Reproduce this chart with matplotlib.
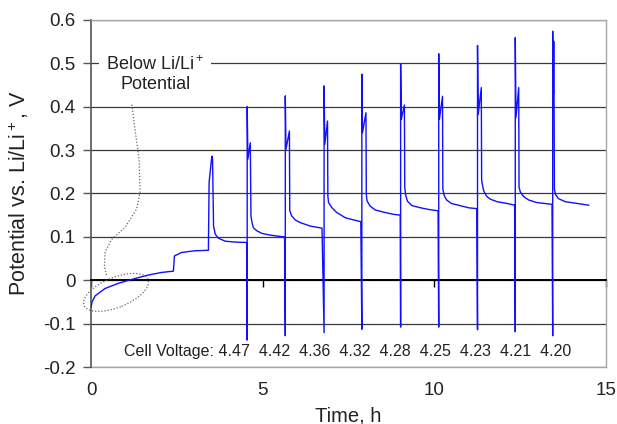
import matplotlib
matplotlib.use("Agg")
import matplotlib.pyplot as plt
from matplotlib.patches import Ellipse
from matplotlib.transforms import ScaledTranslation

plt.rcParams['font.family'] = ['Liberation Sans', 'DejaVu Sans']
plt.rcParams['mathtext.fontset'] = 'custom'
plt.rcParams['mathtext.rm'] = 'Liberation Sans'
plt.rcParams['mathtext.it'] = 'Liberation Sans'
plt.rcParams['axes.unicode_minus'] = False

# --- data ---
# slow first charge, still below 0 V vs Li/Li+
time_h = [0.00, 0.03, 0.12, 0.41, 0.80, 1.19, 1.67, 2.06, 2.40, 2.43, 2.64, 3.03, 3.42,
          # pulse 0
          3.44, 3.47, 3.52, 3.54, 3.57, 3.62, 3.71, 3.91, 4.20, 4.54,
          # pulse 1
          4.55, 4.55, 4.57, 4.64, 4.66, 4.69, 4.73, 4.83, 4.98, 5.22, 5.51, 5.64,
          # pulse 2
          5.66, 5.66, 5.68, 5.78, 5.79, 5.85, 5.95, 6.09, 6.38, 6.73,
          # pulse 3
          6.79, 6.79, 6.81, 6.89, 6.90, 6.92, 7.02, 7.16, 7.41, 7.65, 7.86,
          # pulse 4
          7.89, 7.89, 7.91, 8.01, 8.02, 8.04, 8.13, 8.28, 8.57, 8.81, 9.01,
          # pulse 5
          9.02, 9.02, 9.04, 9.13, 9.14, 9.17, 9.22, 9.35, 9.60, 9.85, 10.11,
          # pulse 6
          10.13, 10.13, 10.15, 10.24, 10.25, 10.29, 10.36, 10.50, 10.80, 11.00, 11.24,
          # pulse 7
          11.26, 11.26, 11.28, 11.37, 11.38, 11.39, 11.44, 11.52, 11.63, 11.83, 12.12, 12.34,
          # pulse 8
          12.36, 12.36, 12.38, 12.46, 12.47, 12.51, 12.60, 12.75, 12.99, 13.43,
          # pulse 9
          13.45, 13.45, 13.47, 13.48, 13.49, 13.50, 13.53, 13.62, 13.82, 14.16, 14.50]

potential_v = [-0.063, -0.050, -0.036, -0.019, -0.007, 0.002, 0.012, 0.018, 0.021, 0.056, 0.064, 0.068, 0.069,
               0.225, 0.248, 0.286, 0.280, 0.125, 0.106, 0.097, 0.090, 0.088, 0.087,
               -0.138, 0.400, 0.279, 0.317, 0.148, 0.133, 0.121, 0.114, 0.108, 0.104, 0.101, 0.100,
               -0.128, 0.425, 0.302, 0.344, 0.160, 0.148, 0.139, 0.133, 0.125, 0.120,
               -0.121, 0.448, 0.313, 0.367, 0.194, 0.179, 0.167, 0.156, 0.144, 0.139, 0.135,
               -0.113, 0.475, 0.340, 0.386, 0.198, 0.183, 0.171, 0.162, 0.156, 0.152, 0.150,
               -0.108, 0.499, 0.371, 0.404, 0.214, 0.195, 0.182, 0.172, 0.167, 0.163, 0.160,
               -0.108, 0.522, 0.371, 0.424, 0.210, 0.195, 0.185, 0.177, 0.171, 0.167, 0.165,
               -0.114, 0.541, 0.382, 0.444, 0.233, 0.225, 0.206, 0.194, 0.187, 0.181, 0.177, 0.173,
               -0.119, 0.559, 0.375, 0.444, 0.214, 0.203, 0.193, 0.185, 0.179, 0.175,
               -0.128, 0.574, 0.430, 0.551, 0.430, 0.210, 0.198, 0.188, 0.181, 0.177, 0.173]

cell_voltages = [4.47, 4.42, 4.36, 4.32, 4.28, 4.25, 4.23, 4.21, 4.20]

x_ticks = [0, 5, 10, 15]
y_ticks = [-0.2, -0.1, 0, 0.1, 0.2, 0.3, 0.4, 0.5, 0.6]
y_tick_labels = ['-0.2', '-0.1', '0', '0.1', '0.2', '0.3', '0.4', '0.5', '0.6']

# dotted leader from the note down to the circled region
leader_t = [1.19, 1.28, 1.40, 1.43, 1.33, 0.99, 0.60, 0.41, 0.39, 0.46]
leader_v = [0.405, 0.348, 0.279, 0.203, 0.164, 0.122, 0.094, 0.065, 0.032, 0.009]

# --- figure ---
fig = plt.figure(figsize=(6.17, 4.24), dpi=100)
ax = fig.add_axes([0.1475, 0.1344, 0.8345, 0.8186])

ax.set_xlim(0, 15)
ax.set_ylim(-0.2, 0.6)

ax.set_yticks(y_ticks)
ax.set_yticklabels(y_tick_labels)
ax.yaxis.grid(True, color='#3a3a3a', linewidth=0.9)
ax.set_axisbelow(True)

ax.plot(time_h, potential_v, color='#1010ff', linewidth=1.0, zorder=3)

# frame like the spreadsheet chart: grey box, x axis crossing at 0
for side in ['top', 'right']:
    ax.spines[side].set_color('#a8a8a8')
    ax.spines[side].set_linewidth(1.0)
ax.spines['left'].set_color('#555555')
ax.spines['left'].set_linewidth(1.2)
ax.spines['bottom'].set_position(('data', 0))
ax.spines['bottom'].set_color('black')
ax.spines['bottom'].set_linewidth(1.4)
ax.set_xticks(x_ticks)
ax.tick_params(axis='x', direction='out', length=5, width=1, color='black', labelbottom=False)
ax.tick_params(axis='y', direction='out', length=6, width=1, color='#555555',
               labelsize=13.5, pad=5, labelcolor='#222222')

sec = ax.secondary_xaxis('bottom')
sec.set_xticks(x_ticks)
sec.tick_params(length=0, labelsize=13.5, pad=11, labelcolor='#222222')
sec.spines['bottom'].set_color('#a8a8a8')
sec.spines['bottom'].set_linewidth(1.0)
sec.set_xlabel('Time, h', fontsize=14.5, labelpad=5, color='#222222')

ax.set_ylabel('Potential vs. Li/Li$^+$, V', fontsize=15.5, labelpad=9, color='#222222')

# annotation
ax.text(1.87, 0.476, 'Below Li/Li$^+$\nPotential', ha='center', va='center',
        fontsize=13, linespacing=1.15, color='#222222', zorder=4,
        bbox=dict(facecolor='white', edgecolor='none', pad=5))
dots = (0, (1, 1.5))
ax.plot(leader_t, leader_v, color='#666666', linestyle=dots, linewidth=0.9, zorder=4)
circle_trans = fig.dpi_scale_trans + ScaledTranslation(0.73, -0.028, ax.transData)
ax.add_patch(Ellipse((0, 0), 0.69, 0.30, angle=22, transform=circle_trans, clip_on=False,
                     fill=False, edgecolor='#666666', linestyle=dots, linewidth=0.9, zorder=4))

label = 'Cell Voltage: ' + '  '.join(f'{v:.2f}' for v in cell_voltages)
ax.text(0.96, -0.164, label, ha='left', va='center', fontsize=11.5, color='#222222')

fig.savefig('out.png', dpi=100, facecolor='white')
